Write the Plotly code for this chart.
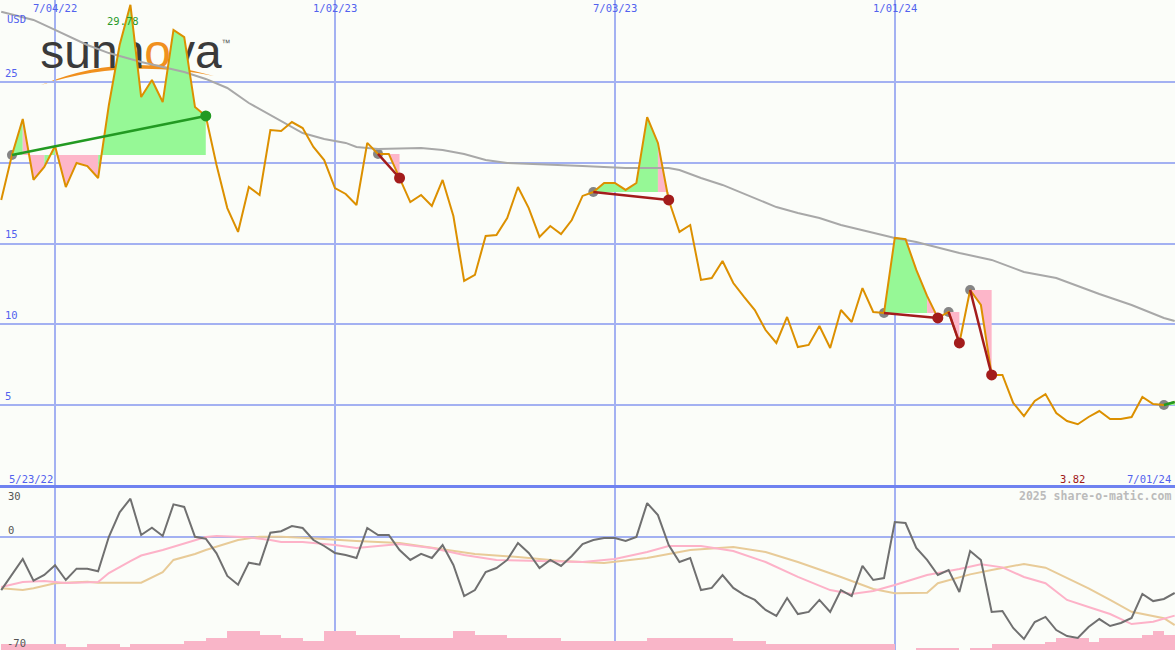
import plotly.graph_objects as go
import pandas as pd

# ---------------- data ----------------
start_date = "2022-05-30"
n_weeks = 110
price = [17.70, 20.48, 22.71, 18.94, 19.74, 21.04, 18.50, 19.99, 19.80, 19.06,
         23.58, 27.29, 29.78, 24.07, 25.12, 23.76, 28.22, 27.78, 23.45, 22.90,
         19.86, 17.20, 15.72, 18.50, 18.01, 22.03, 21.97, 22.52, 22.15, 20.98,
         20.17, 18.44, 18.07, 17.39, 21.23, 20.55, 20.55, 19.06, 17.57, 18.01,
         17.33, 18.94, 16.71, 12.69, 13.06, 15.47, 15.53, 16.58, 18.50, 17.20,
         15.41, 16.09, 15.59, 16.46, 17.95, 18.19, 18.75, 18.75, 18.32, 18.75,
         22.83, 21.23, 17.70, 15.72, 16.15, 12.75, 12.87, 13.92, 12.56, 11.70,
         10.89, 9.65, 8.85, 10.46, 8.60, 8.73, 9.90, 8.54, 10.89, 10.15,
         12.25, 10.77, 10.71, 15.35, 15.28, 13.37, 11.76, 10.40, 10.77, 8.85,
         12.13, 11.20, 6.87, 6.87, 5.14, 4.33, 5.26, 5.69, 4.52, 4.02,
         3.82, 4.27, 4.64, 4.15, 4.15, 4.27, 5.51, 5.07, 5.01, 5.20]

ma_idx = [0, 3, 5, 8, 10, 13, 15, 17, 19, 21, 23, 25, 27, 28, 30, 32, 33, 35, 39, 41, 43, 45, 47,
          51, 54, 58, 62, 63, 65, 67, 69, 72, 74, 76, 78, 81, 83, 85, 89, 92, 95, 98, 100, 102,
          105, 108, 109]
ma_val = [29.35, 28.84, 28.22, 27.29, 26.79, 26.24, 25.93, 25.62, 25.19, 24.63, 23.70, 22.96,
          22.21, 21.84, 21.47, 21.23, 20.98, 20.85, 20.92, 20.79, 20.54, 20.17, 19.99, 19.86,
          19.80, 19.68, 19.68, 19.55, 19.06, 18.63, 18.07, 17.26, 16.89, 16.58, 16.15, 15.66,
          15.35, 15.10, 14.42, 13.99, 13.24, 12.87, 12.38, 11.88, 11.20, 10.40, 10.21]

# trades: entry week, exit week, outcome
trade_entry = [1, 35, 55, 82, 88, 90, 108]
trade_exit = [19, 37, 62, 87, 89, 92, 109]
trade_result = ["win", "loss", "loss", "loss", "loss", "loss", "open"]

osc = [-33.0, -23.7, -13.8, -27.2, -23.7, -17.7, -26.8, -19.8, -19.8, -21.4,
       -0.1, 15.0, 23.4, 1.0, 5.5, 0.4, 19.9, 18.3, -0.1, -1.3,
       -10.3, -24.3, -29.7, -16.1, -17.3, 2.4, 3.3, 6.5, 5.3, -2.1,
       -5.8, -10.1, -11.4, -13.2, 5.3, 1.0, 1.0, -8.3, -14.4, -10.7,
       -13.2, -5.2, -17.5, -36.7, -33.0, -21.9, -19.4, -14.4, -4.0, -10.1,
       -19.4, -14.4, -18.1, -12.0, -4.6, -2.1, -0.9, -0.9, -2.7, -0.2,
       20.7, 13.3, -5.2, -15.7, -13.2, -33.0, -31.7, -23.7, -31.7, -36.0,
       -39.1, -45.3, -49.0, -37.9, -47.8, -46.5, -39.1, -46.5, -33.0, -36.7,
       -18.1, -26.8, -25.6, 9.0, 8.4, -7.0, -14.4, -23.7, -20.6, -34.2,
       -8.9, -14.4, -46.5, -45.9, -56.4, -63.2, -52.7, -49.6, -57.7, -61.4,
       -62.6, -55.8, -50.9, -55.2, -53.3, -50.2, -35.4, -39.8, -38.5, -34.8]

pink_idx = [0, 2, 4, 6, 9, 10, 12, 13, 15, 17, 19, 20, 23, 25, 26, 28, 31, 33, 37, 40, 43, 46,
            50, 54, 57, 60, 62, 65, 68, 71, 74, 77, 79, 81, 83, 86, 89, 91, 93, 95, 97, 99, 101,
            103, 105, 107, 109]
pink_val = [-31.1, -28.0, -27.4, -28.6, -28.0, -22.5, -15.1, -11.7, -8.3, -4.1, -0.2, 0.4, -0.4,
            -2.1, -3.3, -3.3, -5.2, -7.0, -4.6, -7.0, -11.4, -14.4, -15.1, -15.7, -13.8, -9.5,
            -5.8, -5.8, -8.9, -15.7, -24.9, -33.0, -35.4, -33.6, -29.9, -23.7, -20.0, -17.1,
            -19.0, -24.9, -28.8, -39.1, -43.5, -47.8, -54.0, -52.5, -48.8]

tan_idx = [0, 2, 3, 5, 8, 9, 13, 15, 16, 18, 19, 22, 24, 26, 28, 31, 33, 37, 40, 44, 48, 52, 56,
           60, 64, 68, 71, 74, 78, 81, 83, 86, 87, 90, 92, 95, 97, 99, 101, 103, 105, 108, 109]
tan_val = [-31.9, -33.0, -31.9, -28.8, -27.8, -28.5, -28.5, -22.0, -14.4, -10.7, -8.3, -2.1,
           -0.1, -0.1, -0.7, -2.1, -2.7, -4.0, -7.0, -10.7, -12.6, -15.1, -16.3, -13.2, -8.3,
           -6.4, -9.5, -15.7, -24.9, -32.3, -35.0, -34.6, -28.8, -23.3, -20.6, -16.9, -19.2,
           -25.7, -31.9, -39.1, -46.4, -50.4, -54.6]

volume = [3.7, 3.7, 3.7, 3.7, 3.7, 3.7, 1.9, 1.9, 3.7, 3.7,
          3.7, 1.9, 3.7, 3.7, 3.7, 3.7, 3.7, 5.6, 5.6, 7.4,
          7.4, 11.7, 11.7, 11.7, 9.3, 9.3, 7.4, 7.4, 5.6, 5.6,
          11.7, 11.7, 11.7, 9.3, 9.3, 9.3, 9.3, 7.4, 7.4, 7.4,
          7.4, 7.4, 11.7, 11.7, 9.3, 9.3, 9.3, 7.4, 7.4, 7.4,
          7.4, 7.4, 5.6, 5.6, 5.6, 5.6, 5.6, 5.6, 5.6, 5.6,
          7.4, 7.4, 7.4, 7.4, 7.4, 7.4, 7.4, 7.4, 5.6, 5.6,
          5.6, 3.7, 3.7, 3.7, 3.7, 3.7, 3.7, 3.7, 3.7, 3.7,
          3.7, 3.7, 3.7, 0.0, 0.0, 1.5, 1.5, 1.5, 1.5, 0.0,
          1.5, 1.5, 3.7, 3.7, 3.7, 3.7, 3.7, 5.1, 7.4, 7.4,
          7.4, 5.1, 7.4, 7.4, 7.4, 7.4, 9.3, 11.7, 9.3]

grid_dates = ["2022-07-04", "2023-01-02", "2023-07-03", "2024-01-01"]
grid_labels = ["7/04/22", "1/02/23", "7/03/23", "1/01/24"]
price_ticks = [25, 15, 10, 5]
first_label, last_label = "5/23/22", "7/01/24"
max_label, min_label = "29.78", "3.82"

# ---------------- layout helpers ----------------
W, H = 1175, 650
BG = "#FBFDF9"
GRID = "#A3B1F2"
LBL = "#5262EE"
PRICE_PX = 486          # bottom of the price panel (pixels from top)
LOW_TOP = 488
YMAX = PRICE_PX / 16.16
X0 = pd.Timestamp("2022-05-29 05:00")
X1 = pd.Timestamp("2024-07-01 05:00")
DPX = (X1 - X0) / W

dates = list(pd.date_range(start_date, periods=n_weeks, freq="7D"))


def xdate(px):
    return X0 + DPX * px


def yprice(py):
    return YMAX * (1 - py / PRICE_PX)


def pxp(x):
    return x / W


def pyp(y):
    return 1 - y / H


fig = go.Figure()

# logo (drawn below the data)
fig.add_trace(go.Scatter(
    x=[xdate(131)], y=[yprice(56)], mode="text",
    text=["sunn<span style='color:#F0901E'>o</span>va"],
    textfont=dict(family="Liberation Sans", size=48, color="#3A3A3A"),
    textposition="middle center", hoverinfo="skip", showlegend=False))
fig.add_trace(go.Scatter(
    x=[xdate(226)], y=[yprice(44)], mode="text", text=["™"],
    textfont=dict(family="Liberation Sans", size=9, color="#555555"),
    textposition="middle center", hoverinfo="skip", showlegend=False))

# price axis labels (below the data)
fig.add_trace(go.Scatter(
    x=[xdate(5)] * len(price_ticks), y=[v + yprice(PRICE_PX - 8) for v in price_ticks],
    mode="text", text=[str(v) for v in price_ticks],
    textfont=dict(family="DejaVu Sans Mono", size=10.5, color=LBL),
    textposition="middle right", hoverinfo="skip", showlegend=False))

# entry dots (under fills)
fig.add_trace(go.Scatter(
    x=[dates[i] for i in trade_entry], y=[price[i] for i in trade_entry], mode="markers",
    marker=dict(size=10, color="#858585"), hoverinfo="skip", showlegend=False))

# trade fills
fx = {"g": [], "p": []}
fy = {"g": [], "p": []}
for e, x_, r in zip(trade_entry, trade_exit, trade_result):
    base = price[e]
    cols = ["g" if price[k + 1] > base else "p" for k in range(e, x_)]
    k = e
    while k < x_:
        c = cols[k - e]
        j = k
        while j < x_ and cols[j - e] == c:
            j += 1
        xs = [dates[k]] + [dates[m] for m in range(k, j + 1)] + [dates[j], dates[k], None]
        ys = [base] + [price[m] for m in range(k, j + 1)] + [base, base, None]
        fx[c] += xs
        fy[c] += ys
        k = j
for c, col in (("g", "#96F896"), ("p", "#FDB6C9")):
    fig.add_trace(go.Scatter(x=fx[c], y=fy[c], mode="lines", fill="toself", fillcolor=col,
                             line=dict(width=0, color=col), connectgaps=False,
                             hoverinfo="skip", showlegend=False))

# moving average
fig.add_trace(go.Scatter(x=[dates[i] for i in ma_idx], y=ma_val, mode="lines",
                         line=dict(color="#A8A8A8", width=2), hoverinfo="skip", showlegend=False))
# price
fig.add_trace(go.Scatter(x=dates, y=price, mode="lines",
                         line=dict(color="#DC9000", width=2), hoverinfo="skip", showlegend=False))

# trade lines and exit dots
for e, x_, r in zip(trade_entry, trade_exit, trade_result):
    col = "#229A22" if r in ("win", "open") else "#A31C1C"
    fig.add_trace(go.Scatter(x=[dates[e], dates[x_]], y=[price[e], price[x_]], mode="lines",
                             line=dict(color=col, width=2.5), hoverinfo="skip", showlegend=False))
    if r != "open":
        fig.add_trace(go.Scatter(x=[dates[x_]], y=[price[x_]], mode="markers",
                                 marker=dict(size=11, color=col), hoverinfo="skip",
                                 showlegend=False))

# ---------------- lower panel ----------------
fig.add_trace(go.Bar(x=dates[:len(volume)], y=volume, base=-70, offset=0,
                     width=7 * 86400000, marker=dict(color="#F9B5C8", line=dict(width=0)),
                     xaxis="x2", yaxis="y2", hoverinfo="skip", showlegend=False))
fig.add_trace(go.Scatter(x=[dates[i] for i in tan_idx], y=tan_val, mode="lines",
                         line=dict(color="#E8CB98", width=2), xaxis="x2", yaxis="y2",
                         hoverinfo="skip", showlegend=False))
fig.add_trace(go.Scatter(x=[dates[i] for i in pink_idx], y=pink_val, mode="lines",
                         line=dict(color="#FDB2C8", width=2), xaxis="x2", yaxis="y2",
                         hoverinfo="skip", showlegend=False))
fig.add_trace(go.Scatter(x=dates, y=osc, mode="lines",
                         line=dict(color="#707070", width=2), xaxis="x2", yaxis="y2",
                         hoverinfo="skip", showlegend=False))

# ---------------- axes ----------------
xcommon = dict(type="date", range=[X0, X1], showgrid=True, gridcolor=GRID, gridwidth=1.6,
               tickvals=grid_dates, showticklabels=False, zeroline=False, showline=False,
               ticks="")
fig.update_layout(
    width=W, height=H, margin=dict(l=0, r=0, t=0, b=0),
    paper_bgcolor=BG, plot_bgcolor=BG, hovermode=False, bargap=0,
    xaxis=dict(domain=[0, 1], anchor="y", **xcommon),
    xaxis2=dict(domain=[0, 1], anchor="y2", matches="x", **xcommon),
    yaxis=dict(domain=[1 - PRICE_PX / H, 1], range=[0, YMAX], tickvals=[5, 10, 15, 20, 25],
               showgrid=True, gridcolor=GRID, gridwidth=2, showticklabels=False,
               zeroline=False, showline=False, ticks=""),
    yaxis2=dict(domain=[0, (H - LOW_TOP) / H], range=[-70, 30], tickvals=[0], showgrid=True,
                gridcolor=GRID, gridwidth=2, showticklabels=False, zeroline=False,
                showline=False, ticks=""),
)

# logo backdrop and swoosh (between grid and traces)
shapes = [
    dict(type="rect", xref="paper", yref="paper", x0=pxp(35), x1=pxp(232), y0=pyp(89),
         y1=pyp(33), fillcolor=BG, line=dict(width=0), layer="between"),
    dict(type="path", xref="paper", yref="paper", layer="between", fillcolor="#F0901E",
         line=dict(width=0),
         path=(f"M {pxp(41)},{pyp(85)} Q {pxp(125)},{pyp(50)} {pxp(214)},{pyp(76)} "
               f"Q {pxp(125)},{pyp(58)} {pxp(41)},{pyp(85)} Z")),
    dict(type="line", xref="paper", yref="paper", x0=0, x1=1, y0=pyp(486.5), y1=pyp(486.5),
         line=dict(color="#6F82F0", width=2.8), layer="above"),
]
fig.update_layout(shapes=shapes)

mono = "DejaVu Sans Mono"
ann = []


def add_text(txt, x, y, xanchor="center", color=LBL, size=10.5, bold=False):
    ann.append(dict(text=f"<b>{txt}</b>" if bold else txt, x=pxp(x), y=pyp(y), xref="paper",
                    yref="paper", xanchor=xanchor, yanchor="middle", showarrow=False,
                    font=dict(family=mono, size=size, color=color)))


add_text("USD", 5, 19, "left")
for d, lab in zip(grid_dates, grid_labels):
    px_ = (pd.Timestamp(d) - X0) / DPX
    add_text(lab, px_, 8)
add_text(max_label, 123, 21, color="#2A9A2A")
add_text(first_label, 7, 479, "left")
add_text(min_label, 1072, 479, color="#A01818")
add_text(last_label, 1173, 479, "right")
add_text("2025 share-o-matic.com", 1173, 496, "right", color="#BBBBBB", size=11.5, bold=True)
add_text("30", 6, 496, "left", color="#555555")
add_text("0", 6, 530, "left", color="#555555")
add_text("-70", 5, 643, "left", color="#555555")
fig.update_layout(annotations=ann)

fig.write_html("out.html", config={"displayModeBar": False},
               post_script="document.body.style.margin='0';document.body.style.overflow='hidden';")
